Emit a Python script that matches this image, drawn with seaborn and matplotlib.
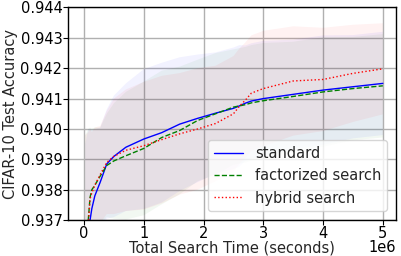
import matplotlib

matplotlib.use("Agg")
import matplotlib.pyplot as plt
import matplotlib.transforms as mtransforms
import pandas as pd
import seaborn as sns

sns.set_theme(style="ticks")
plt.rcParams["font.family"] = ["DejaVu Sans"]

# search time in units of 1e6 seconds
time_e6 = [0.02, 0.07, 0.1, 0.13, 0.18, 0.27, 0.38, 0.5, 0.7, 1.0, 1.3, 1.6,
           1.9, 2.2, 2.5, 2.6, 2.7, 2.8, 3.0, 3.5, 4.0, 4.5, 5.0]

standard_mean = [0.9300, 0.9355, 0.9370, 0.93738, 0.9378, 0.93825, 0.93885,
                 0.9391, 0.9394, 0.93967, 0.93988, 0.94016, 0.94035, 0.94052,
                 0.94068, 0.94076, 0.94085, 0.94092, 0.94100, 0.94114,
                 0.94128, 0.94139, 0.94150]
factorized_mean = [0.9310, 0.9370, 0.93775, 0.9380, 0.93815, 0.93845, 0.93880,
                   0.93895, 0.93912, 0.93936, 0.93972, 0.93995, 0.94028,
                   0.94050, 0.94072, 0.94076, 0.94080, 0.94086, 0.94093,
                   0.94107, 0.94122, 0.94133, 0.94142]
hybrid_mean = [0.9310, 0.9368, 0.9377, 0.93790, 0.93815, 0.93850, 0.93890,
               0.93910, 0.93930, 0.93945, 0.93965, 0.93984, 0.94000, 0.94018,
               0.94050, 0.94075, 0.94095, 0.94118, 0.94133, 0.94158, 0.94163,
               0.94183, 0.94198]

standard_std = [0.0095, 0.0045, 0.0030, 0.0026, 0.0022, 0.0018, 0.0018,
                0.0020, 0.0021, 0.0023, 0.0023, 0.0022, 0.0021, 0.0020,
                0.0020, 0.0020, 0.0019, 0.0019, 0.0019, 0.0018, 0.0018,
                0.0017, 0.0017]
factorized_std = [0.0088, 0.0030, 0.0023, 0.0020, 0.0019, 0.0016, 0.0017,
                  0.0019, 0.0021, 0.0022, 0.0022, 0.0021, 0.0020, 0.0020,
                  0.0019, 0.0019, 0.0019, 0.0019, 0.0019, 0.0018, 0.0018,
                  0.0017, 0.0017]
hybrid_std = [0.0088, 0.0031, 0.0023, 0.0020, 0.0019, 0.0016, 0.0017,
              0.0019, 0.0020, 0.0021, 0.0021, 0.0020, 0.0020, 0.0019,
              0.0019, 0.0019, 0.0019, 0.0019, 0.0019, 0.0018, 0.0017,
              0.0016, 0.0015]

series = [
    ("standard", standard_mean, standard_std, "blue", "-"),
    ("factorized search", factorized_mean, factorized_std, "green", "--"),
    ("hybrid search", hybrid_mean, hybrid_std, "red", ":"),
]

frames = []
for name, mean, std, _, _ in series:
    frames.append(pd.DataFrame({"time": [t * 1e6 for t in time_e6],
                                "acc": mean, "std": std, "method": name}))
df = pd.concat(frames, ignore_index=True)

fs = 10.5
fig, ax = plt.subplots(figsize=(4.02, 2.56), dpi=100)
fig.subplots_adjust(left=0.169, right=0.985, top=0.971, bottom=0.14)

for name, _, _, color, ls in series:
    sub = df[df["method"] == name]
    ax.fill_between(sub["time"], sub["acc"] - sub["std"], sub["acc"] + sub["std"],
                    color=color, alpha=0.05, linewidth=0)
    sns.lineplot(data=sub, x="time", y="acc", color=color, linestyle=ls,
                 linewidth=1.0, label=name, ax=ax)

ax.set_xlim(-0.27e6, 5.22e6)
ax.set_ylim(0.937, 0.944)
ax.set_xticks([0, 1e6, 2e6, 3e6, 4e6, 5e6])
ax.set_yticks([0.937, 0.938, 0.939, 0.940, 0.941, 0.942, 0.943, 0.944])
ax.ticklabel_format(axis="x", style="sci", scilimits=(0, 0))
ax.grid(True, color="#b0b0b0", linewidth=1.0)
for sp in ax.spines.values():
    sp.set_color("black")
    sp.set_linewidth(1.0)
ax.tick_params(labelsize=fs, colors="black", length=3.5, width=0.8)
ax.tick_params(axis="x", pad=0.5)
ax.tick_params(axis="y", pad=0.5)

# the "1e6" sits on the same line as the x label in the original
offset = ax.xaxis.get_offset_text()
offset.set_fontsize(fs)
offset.set_transform(offset.get_transform()
                     + mtransforms.ScaledTranslation(0, 3.5 / 72, fig.dpi_scale_trans))

ax.set_xlabel("Total Search Time (seconds)", fontsize=fs, labelpad=-0.5)
ax.set_ylabel("CIFAR-10 Test Accuracy", fontsize=fs, labelpad=2)
ax.legend(loc="lower right", fontsize=fs, framealpha=0.8, borderaxespad=0.6)

fig.savefig("out.png", dpi=100)
